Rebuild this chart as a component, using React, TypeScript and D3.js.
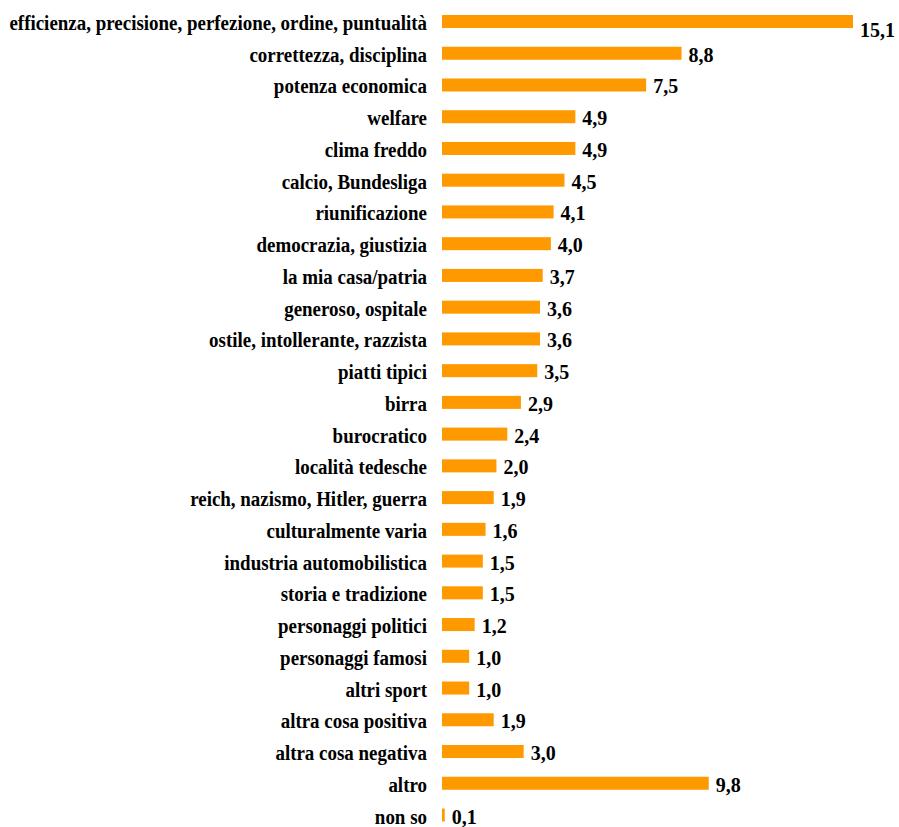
import React from 'react';
import * as d3 from 'd3';

const categories = [
  'efficienza, precisione, perfezione, ordine, puntualità',
  'correttezza, disciplina',
  'potenza economica',
  'welfare',
  'clima freddo',
  'calcio, Bundesliga',
  'riunificazione',
  'democrazia, giustizia',
  'la mia casa/patria',
  'generoso, ospitale',
  'ostile, intollerante, razzista',
  'piatti tipici',
  'birra',
  'burocratico',
  'località tedesche',
  'reich, nazismo, Hitler, guerra',
  'culturalmente varia',
  'industria automobilistica',
  'storia e tradizione',
  'personaggi politici',
  'personaggi famosi',
  'altri sport',
  'altra cosa positiva',
  'altra cosa negativa',
  'altro',
  'non so',
];

const values = [
  15.1, 8.8, 7.5, 4.9, 4.9, 4.5, 4.1, 4.0, 3.7, 3.6, 3.6, 3.5, 2.9, 2.4, 2.0,
  1.9, 1.6, 1.5, 1.5, 1.2, 1.0, 1.0, 1.9, 3.0, 9.8, 0.1,
];

const width = 899;
const height = 827;
const barColor = '#FF9900';
const serif = '"Liberation Serif"';

export default function App() {
  const x = d3.scaleLinear().domain([0, 15.1]).range([442, 853]);
  const step = 31.74;
  const y = d3
    .scaleBand<string>()
    .domain(categories)
    .range([21.5 - step / 2, 21.5 - step / 2 + step * categories.length])
    .paddingInner(0.59)
    .paddingOuter(0.295);

  const fmt = (v: number) => v.toFixed(1).replace('.', ',');

  return (
    <div style={{ position: 'fixed', left: 0, top: 0 }}>
      <svg width={width} height={height} style={{ display: 'block', background: '#fff' }}>
        {categories.map((c, i) => {
          const y0 = y(c) as number;
          const cy = y0 + y.bandwidth() / 2;
          return (
            <g key={c}>
              {/* category label, slightly condensed like the original */}
              <text
                transform={`translate(427,${cy + 8.5}) scale(0.925,1)`}
                textAnchor="end"
                style={{ fontFamily: serif, fontWeight: 'bold', fontSize: 20.5 }}
                fill="#000"
              >
                {c}
              </text>
              <rect
                x={x(0)}
                y={y0}
                width={x(values[i]) - x(0)}
                height={y.bandwidth()}
                fill={barColor}
              />
              <text
                x={x(values[i]) + 7}
                y={cy + (i === 0 ? 15.5 : 8.5)}
                style={{ fontFamily: serif, fontWeight: 'bold', fontSize: 20 }}
                fill="#000"
              >
                {fmt(values[i])}
              </text>
            </g>
          );
        })}
      </svg>
    </div>
  );
}
